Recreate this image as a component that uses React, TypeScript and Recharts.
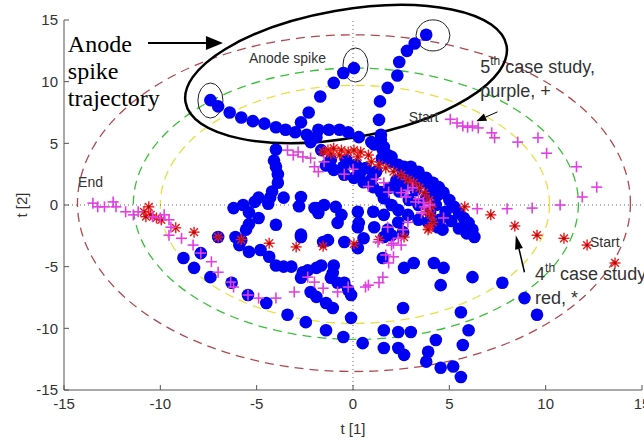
import React from 'react';
import { ScatterChart, Scatter, XAxis, YAxis, ReferenceLine, ReferenceArea, ReferenceDot } from 'recharts';

const xTicks = [-15, -10, -5, 0, 5, 10, 15];
const yTicks = [-15, -10, -5, 0, 5, 10, 15];

// Blue: normal operation incl. anode spike trajectories
const blueSpikes = [
  [-7.4, 8.5], [-7.0, 8.0], [-6.4, 7.5], [-5.8, 7.1], [-5.2, 6.8], [-4.6, 6.6], [-4.0, 6.3], [-3.5, 6.1], [-3.0, 5.9], [-2.4, 5.7], [-1.9, 5.5],
  [0.05, 11.1], [-0.5, 10.7], [-1.0, 9.9], [-1.7, 8.8], [-2.3, 7.5], [-2.7, 6.7],
  [3.8, 13.8], [3.2, 13.1], [2.8, 12.5], [2.4, 11.6], [2.3, 10.5], [1.8, 9.5], [1.4, 8.4], [1.35, 6.9], [1.45, 5.7], [1.6, 4.7], [2.0, 3.9],
];
const blueBand = [
  [-1.8, 6.1], [-1.25, 6.1], [-0.7, 6.1], [-0.25, 5.9], [0.3, 5.5], [0.95, 5.1], [1.45, 5.3], [-2.2, 5.1],
  [1.1, 4.9], [1.55, 4.45], [1.8, 4.05], [2.0, 3.5], [2.35, 3.25], [2.65, 3.1], [3.0, 3.1], [3.4, 2.7], [3.8, 2.2], [4.15, 1.8], [4.45, 1.45], [4.7, 1.0], [5.0, 0.4], [5.25, -0.15], [5.5, -0.65], [5.75, -1.05], [6.0, -1.45], [6.2, -2.0], [6.3, -2.6],
  [-1.0, 2.85], [-0.45, 2.45], [0.05, 2.2], [0.55, 1.85], [1.05, 1.45], [1.45, 1.05], [1.6, 0.55], [2.0, 0], [2.35, -0.4], [2.85, -0.8], [3.4, -1.2], [3.9, -1.4], [4.4, -1.8],
  [-1.65, 4.45], [-1.15, 3.65], [-0.35, 3.65], [0.15, 3.25], [0.65, 3.0], [1.2, 2.7], [2.25, 2.0], [2.75, 1.6], [3.25, 1.2], [3.8, 0.55], [4.3, 0], [4.8, -0.55],
  [2.6, 2.6], [3.1, 2.2], [3.5, 1.8], [2.9, 0.4], [3.4, 0.0], [4.0, -0.6], [4.5, -1.2], [5.1, -1.3], [5.5, -1.9], [5.9, -2.3],
  [1.5, 3.8], [4.0, 1.3], [4.4, 0.8], [0.4, 2.7], [-0.5, 3.1], [1.0, 2.2], [1.9, 1.4], [2.4, 1.1], [-1.4, 3.2],
];
const blueCentre = [
  [-4.0, 4.5], [-4.1, 3.6], [-4.0, 3.1], [-3.9, 2.5], [-3.9, 1.8], [-4.2, 1.1], [-4.3, 0.6], [-4.4, 0.1],
  [-3.6, 0.6], [-2.7, 0.65], [-2.8, -0.1], [-2.0, -0.25], [-4.9, 0.6], [-5.1, 0.25], [-5.7, 0], [-6.2, -0.25], [-5.4, -0.6], [-4.9, -1.05], [-5.4, -1.55], [-5.55, -2.0], [-4.0, -1.6], [-2.7, -2.4], [-7.0, -2.6], [-5.8, -2.85], [-6.1, -2.6],
  [-1.9, -0.25], [-1.5, 0], [-0.9, -0.15], [-0.6, -0.8], [-1.8, -0.65], [-0.8, -1.45], [0.25, -0.55], [0.3, -1.45], [1.05, -0.55], [1.1, -1.8], [1.6, -0.8], [1.8, -2.0], [2.35, -1.4], [2.6, -2.2], [4.65, -2.0], [-1.3, -2.85], [-0.45, -3.0], [0.55, -2.7],
  [-2.7, -2.6], [-1.55, -3.0], [0.25, -3.5], [1.6, -2.6], [2.0, -2.45], [0.25, -1.8],
];
const blueLower = [
  [-8.8, -4.3], [-7.9, -3.9], [-8.25, -5.1], [-7.4, -5.85], [-6.3, -6.3], [-5.45, -7.3], [-4.5, -7.95], [-3.4, -8.9], [-2.45, -9.5], [-1.4, -10.15], [-0.5, -10.7], [-0.1, -9.15], [0.5, -11.2],
  [-5.9, -3.25], [-5.4, -3.8], [-4.8, -3.65], [-4.35, -4.2], [-4.0, -4.9], [-3.6, -5.0], [-3.2, -5.0], [-2.6, -5.45], [-2.35, -5.3], [-1.9, -5.1], [-1.65, -4.9], [-1.0, -4.9], [-1.05, -5.5], [-2.7, -5.9], [-1.15, -5.9], [-0.8, -6.3], [-0.45, -6.3], [-0.25, -6.9], [-0.1, -7.3], [-2.2, -7.05], [-1.9, -7.45], [-1.4, -7.95], [-1.05, -8.35],
  [1.55, -4.3], [2.65, -5.1], [3.15, -4.7], [4.2, -4.7], [4.7, -5.1], [4.55, -6.5], [6.2, -5.85],
  [2.6, -8.35], [1.6, -10.15], [2.35, -10.3], [3.0, -10.3], [1.6, -11.6], [2.35, -11.6], [2.65, -12.15], [4.3, -10.95], [3.9, -11.9], [3.8, -12.7], [4.55, -13.2], [5.2, -13.1], [5.6, -13.95], [5.6, -8.7], [6.0, -10.15], [5.7, -11.35],
  [7.75, -6.3], [8.9, -7.55], [9.55, -8.9],
];

// Red *: 4th case study
const redCase4 = [
  [13.6, -4.7], [12.15, -3.25], [10.95, -2.7], [9.55, -2.45], [8.4, -1.7], [7.15, -0.8], [5.8, -0.15],
  [-1.3, 4.45], [-1.0, 4.6], [-0.6, 4.45], [-0.25, 4.3], [0.05, 4.45], [0.4, 4.3], [0.8, 4.05], [0.25, 3.9], [-0.7, 4.05], [-1.15, 4.15], [-1.55, 4.3],
  [0.95, 3.5], [1.35, 3.25], [1.7, 3.0], [2.1, 2.7], [2.5, 2.45], [2.85, 2.05], [3.15, 1.8], [3.45, 1.4], [3.7, 1.0], [3.95, 0.4], [4.05, -0.15], [4.05, -0.8], [4.15, -1.4], [3.95, -1.85], [3.8, -0.55],
  [-10.6, -0.15], [-10.85, -0.55], [-10.75, -0.95], [-10.5, -0.8], [-10.2, -1.05], [-9.95, -1.2], [-9.2, -1.85], [-8.25, -2.2], [-7.0, -2.6], [-5.8, -2.8], [-4.35, -3.1], [-2.95, -3.4], [-1.55, -3.35], [0.05, -3.15], [1.35, -2.8], [2.65, -2.6], [3.9, -2.0],
];

// Magenta +: 5th case study
const purpleCase5 = [
  [5.05, 6.95], [5.4, 6.65], [5.7, 6.4], [5.95, 6.3], [6.2, 6.4], [6.5, 6.25], [7.2, 5.85], [7.35, 5.45], [8.55, 5.1], [9.6, 5.45], [10.05, 4.2], [11.6, 3.1], [12.65, 1.45], [11.9, 0.65], [10.75, 0], [9.3, -0.25], [8.0, -0.3], [6.45, -0.3],
  [-3.4, 4.45], [-3.1, 4.05], [-2.85, 4.3], [-2.6, 3.9], [-2.2, 3.8], [-2.0, 3.1], [-1.8, 2.7], [-1.5, 3.5], [-0.45, 2.5], [0.0, 2.9], [0.8, 1.5], [1.2, 2.1], [1.6, 1.8], [1.85, 1.05], [2.5, 1.0], [2.85, 1.2], [3.1, 1.4], [2.75, 0.65], [3.4, 0.5], [3.25, 0.25], [3.65, 0.2], [4.0, 0], [3.7, -0.15], [3.55, -0.65], [2.85, -1.4], [2.6, -2.0], [1.8, -1.8], [2.35, -2.7], [1.3, -3.0], [4.7, -1.05],
  [2.1, -3.1], [2.1, -4.2], [1.85, -4.7], [1.55, -5.85], [0.8, -6.5], [1.7, -4.05], [2.0, -3.25], [2.5, -3.25], [1.35, -6.3], [0.65, -6.65], [-0.25, -6.65], [-0.8, -7.05], [-1.55, -6.75], [-2.0, -6.25], [-2.35, -5.85], [-3.05, -7.05], [-4.0, -7.55], [-4.9, -7.55], [-5.45, -7.3], [-6.2, -6.65], [-6.35, -6.25], [-7.0, -5.45], [-7.35, -4.6], [-7.9, -3.9], [-8.3, -3.25], [-8.9, -2.7], [-9.55, -2.45], [-9.45, -1.8], [-10.0, -1.05],
  [-13.5, 0.15], [-13.25, -0.15], [-12.9, -0.15], [-12.45, 0.25], [-12.3, -0.15], [-11.8, -0.55], [-11.4, -0.8], [-11.15, -0.55], [-10.4, -0.95], [-9.8, -0.8], [-9.55, -1.2],
];

// control-limit ellipses (extents in t[1], t[2])
const limitOuter = { x1: -14.3, x2: 14.4, y1: -13.5, y2: 13.8 };
const limitMiddle = { x1: -11.4, x2: 11.7, y1: -10.9, y2: 11.1 };
const limitInner = { x1: -10.0, x2: 10.2, y1: -9.6, y2: 9.7 };
// anode spike highlight
const spikeRegion = { x1: -8.82, x2: 8.1, y1: 5.43, y2: 15.81 };
const spikeCircles = [
  { x1: -8.05, x2: -6.75, y1: 7.05, y2: 9.89 },
  { x1: -0.52, x2: 0.78, y1: 9.97, y2: 12.73 },
  { x1: 3.27, x2: 5.03, y1: 12.49, y2: 15.01 },
];

const toPts = (arr: number[][]) => arr.map(([x, y]) => ({ x, y }));
const blueData = toPts([...blueSpikes, ...blueBand, ...blueCentre, ...blueLower]);
const redData = toPts(redCase4);
const purpleData = toPts(purpleCase5);

const AX = '#555';
const TXT = '#333';
const SANS = "'Liberation Sans', Arial, sans-serif";
const SERIF = "'Liberation Serif', 'Times New Roman', serif";
const TMX = 8;
const TMY = 6;
const TL = 5;
const FS = 15;

const BottomTick = (p: any) => (
  <g>
    <line x1={p.x} x2={p.x} y1={p.y - TMX} y2={p.y - TMX - TL} stroke={AX} />
    <text x={p.x} y={p.y} dy="0.71em" textAnchor="middle" fontSize={FS} fill={TXT} fontFamily={SANS}>{p.payload.value}</text>
  </g>
);
const TopTick = (p: any) => (
  <line x1={p.x} x2={p.x} y1={p.y + TMX} y2={p.y + TMX + TL} stroke={AX} />
);
const LeftTick = (p: any) => (
  <g>
    <line x1={p.x + TMY} x2={p.x + TMY + TL} y1={p.y} y2={p.y} stroke={AX} />
    <text x={p.x} y={p.y} dy="0.355em" textAnchor="end" fontSize={FS} fill={TXT} fontFamily={SANS}>{p.payload.value}</text>
  </g>
);
const RightTick = (p: any) => (
  <line x1={p.x - TMY} x2={p.x - TMY - TL} y1={p.y} y2={p.y} stroke={AX} />
);

const ellipseShape = (stroke: string, width: number, dash?: string, rot = 0) => (p: any) => {
  const cx = p.x + p.width / 2;
  const cy = p.y + p.height / 2;
  return (
    <ellipse cx={cx} cy={cy} rx={Math.abs(p.width) / 2} ry={Math.abs(p.height) / 2} fill="none" stroke={stroke}
      strokeWidth={width} strokeDasharray={dash} transform={rot ? `rotate(${rot} ${cx} ${cy})` : undefined} />
  );
};

const arrowShape = (headLen: number, headW: number, sw: number) => (p: any) => {
  const { x1, y1, x2, y2 } = p;
  const ang = Math.atan2(y2 - y1, x2 - x1);
  const bx = x2 - headLen * Math.cos(ang);
  const by = y2 - headLen * Math.sin(ang);
  const nx = (-Math.sin(ang) * headW) / 2;
  const ny = (Math.cos(ang) * headW) / 2;
  return (
    <g>
      <line x1={x1} y1={y1} x2={bx} y2={by} stroke="#000" strokeWidth={sw} />
      <polygon points={`${x2},${y2} ${bx + nx},${by + ny} ${bx - nx},${by - ny}`} fill="#000" />
    </g>
  );
};

const textShape = (lines: React.ReactNode[], size: number, family: string, color: string, lh: number) => (p: any) => (
  <text x={p.cx} y={p.cy} fontSize={size} fontFamily={family} fill={color}>
    {lines.map((l, i) => (
      <tspan key={i} x={p.cx} dy={i === 0 ? 0 : lh}>{l}</tspan>
    ))}
  </text>
);

const caseText = (num: string, rest: string, second: string) => (p: any) => (
  <text x={p.cx} y={p.cy} fontSize={18} fontFamily={SANS} fill={TXT}>
    <tspan>{num}</tspan>
    <tspan dy={-8} fontSize={12}>th</tspan>
    <tspan dy={8}>{rest}</tspan>
    <tspan x={p.cx} dy={24}>{second}</tspan>
  </text>
);

const BlueDot = (p: any) => <circle cx={p.cx} cy={p.cy} r={6.3} fill="#0000f2" />;
const RedStar = (p: any) => {
  const s = 5.5;
  const d = 3.9;
  return (
    <g stroke="#f01818" strokeWidth={1.4}>
      <line x1={p.cx - s} x2={p.cx + s} y1={p.cy} y2={p.cy} />
      <line x1={p.cx} x2={p.cx} y1={p.cy - s} y2={p.cy + s} />
      <line x1={p.cx - d} x2={p.cx + d} y1={p.cy - d} y2={p.cy + d} />
      <line x1={p.cx - d} x2={p.cx + d} y1={p.cy + d} y2={p.cy - d} />
      <circle cx={p.cx} cy={p.cy} r={1.6} fill="#a01010" stroke="none" />
    </g>
  );
};
const MagPlus = (p: any) => {
  const s = 5.5;
  return (
    <g stroke="#e040e0" strokeWidth={1.6}>
      <line x1={p.cx - s} x2={p.cx + s} y1={p.cy} y2={p.cy} />
      <line x1={p.cx} x2={p.cx} y1={p.cy - s} y2={p.cy + s} />
    </g>
  );
};

export default function App() {
  return (
    <div style={{ position: 'absolute', left: 0, top: 0, background: '#fff' }}>
      <ScatterChart width={644} height={442} margin={{ top: 20, right: 2, bottom: 0, left: 0 }}>
        <XAxis dataKey="x" type="number" domain={[-15, 15]} ticks={xTicks} interval={0} allowDataOverflow
          height={52} tickSize={0} tickMargin={TMX} tick={BottomTick} tickLine={false} axisLine={{ stroke: AX }}
          label={{ value: 't [1]', position: 'insideBottom', offset: 8, fontSize: 15, fill: TXT, fontFamily: SANS }} />
        <XAxis xAxisId="top" orientation="top" type="number" domain={[-15, 15]} ticks={xTicks} interval={0} allowDataOverflow
          height={0} tickSize={0} tickMargin={TMX} tick={TopTick} tickLine={false} axisLine={{ stroke: AX }} />
        <YAxis dataKey="y" type="number" domain={[-15, 15]} ticks={yTicks} interval={0} allowDataOverflow
          width={64} tickSize={0} tickMargin={TMY} tick={LeftTick} tickLine={false} axisLine={{ stroke: AX }}
          label={{ value: 't [2]', angle: -90, position: 'insideLeft', offset: 22, fontSize: 15, fill: TXT, fontFamily: SANS, style: { textAnchor: 'middle' } }} />
        <YAxis yAxisId="right" orientation="right" type="number" domain={[-15, 15]} ticks={yTicks} interval={0} allowDataOverflow
          width={0} tickSize={0} tickMargin={TMY} tick={RightTick} tickLine={false} axisLine={{ stroke: AX }} />

        <ReferenceLine x={0} stroke="#666" strokeDasharray="1 3" />
        <ReferenceLine y={0} stroke="#666" strokeDasharray="1 3" />

        <ReferenceArea {...limitOuter} ifOverflow="visible" shape={ellipseShape('#b04850', 1.3, '9 6')} />
        <ReferenceArea {...limitMiddle} ifOverflow="visible" shape={ellipseShape('#38c038', 1.3, '9 6')} />
        <ReferenceArea {...limitInner} ifOverflow="visible" shape={ellipseShape('#e8e040', 1.3, '9 6')} />

        <Scatter data={blueData} isAnimationActive={false} shape={BlueDot} />
        <Scatter data={redData} isAnimationActive={false} shape={RedStar} />
        <Scatter data={purpleData} isAnimationActive={false} shape={MagPlus} />

        <ReferenceArea {...spikeRegion} ifOverflow="visible" shape={ellipseShape('#000', 2.5, undefined, -10)} />
        {spikeCircles.map((c, i) => (
          <ReferenceArea key={i} {...c} ifOverflow="visible" shape={ellipseShape('#222', 1)} />
        ))}

        <ReferenceLine segment={[{ x: -10.64, y: 13.14 }, { x: -6.75, y: 13.14 }]} ifOverflow="visible" shape={arrowShape(17, 14, 2)} />
        <ReferenceLine segment={[{ x: 7.5, y: 7.55 }, { x: 6.4, y: 6.8 }]} ifOverflow="visible" shape={arrowShape(10, 8, 1)} />
        <ReferenceLine segment={[{ x: 8.9, y: -5.45 }, { x: 8.45, y: -2.45 }]} ifOverflow="visible" shape={arrowShape(14, 8, 1.5)} />

        <ReferenceDot x={-14.8} y={12.4} r={0} ifOverflow="visible" shape={textShape(['Anode', 'spike', 'trajectory'], 24, SERIF, '#000', 27)} />
        <ReferenceDot x={-5.4} y={11.52} r={0} ifOverflow="visible" shape={textShape(['Anode spike'], 14, SANS, TXT, 0)} />
        <ReferenceDot x={2.9} y={6.7} r={0} ifOverflow="visible" shape={textShape(['Start'], 14, SANS, TXT, 0)} />
        <ReferenceDot x={-14.27} y={1.45} r={0} ifOverflow="visible" shape={textShape(['End'], 14, SANS, TXT, 0)} />
        <ReferenceDot x={12.3} y={-3.4} r={0} ifOverflow="visible" shape={textShape(['Start'], 14, SANS, TXT, 0)} />
        <ReferenceDot x={6.6} y={10.7} r={0} ifOverflow="visible" shape={caseText('5', ' case study,', 'purple, +')} />
        <ReferenceDot x={9.45} y={-6.1} r={0} ifOverflow="visible" shape={caseText('4', ' case study', 'red, *')} />
      </ScatterChart>
    </div>
  );
}
